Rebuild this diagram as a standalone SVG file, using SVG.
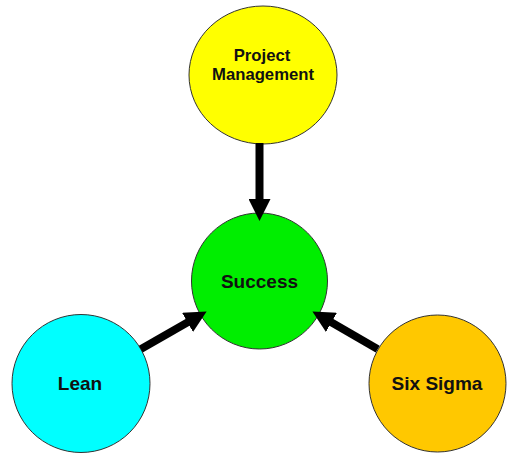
<svg xmlns="http://www.w3.org/2000/svg" width="522" height="462" viewBox="0 0 522 462">
<style>
.node { stroke: #333; stroke-width: 1; }
.lbl { font-family: "Liberation Sans", Arial, sans-serif; font-weight: bold; font-size: 19px; fill: #111; text-anchor: middle; }
.pm { font-size: 16.7px; }
.conn { stroke: #000; stroke-width: 8; fill: none; marker-end: url(#ah); }
</style>
<defs>
<marker id="ah" viewBox="0 -11 22 22" markerWidth="22" markerHeight="22" refX="1" refY="0" orient="auto" markerUnits="userSpaceOnUse">
<path d="M0,-11 L22,0 L0,11 z" fill="#000"/>
</marker>
</defs>
<rect width="522" height="462" fill="#fff"/>
<g id="node-pm">
<ellipse class="node" cx="263" cy="75" rx="74" ry="69" fill="#FFFF00"/>
<text class="lbl pm" x="262" y="61">Project</text>
<text class="lbl pm" x="263" y="80">Management</text>
</g>
<g id="node-success">
<circle class="node" cx="259.5" cy="281" r="68" fill="#00EE00"/>
<text class="lbl" x="259.5" y="288">Success</text>
</g>
<g id="node-lean">
<circle class="node" cx="81" cy="383.5" r="69" fill="#00FFFF"/>
<text class="lbl" x="80" y="390">Lean</text>
</g>
<g id="node-sixsigma">
<circle class="node" cx="437.5" cy="383.5" r="68.5" fill="#FFC800"/>
<text class="lbl" x="437" y="390">Six Sigma</text>
</g>
<g id="connectors">
<line class="conn" x1="259.5" y1="143" x2="259.5" y2="200"/>
<line class="conn" x1="140.8" y1="349.1" x2="188.4" y2="321.9"/>
<line class="conn" x1="377.7" y1="349.1" x2="330.6" y2="321.9"/>
</g>
</svg>
